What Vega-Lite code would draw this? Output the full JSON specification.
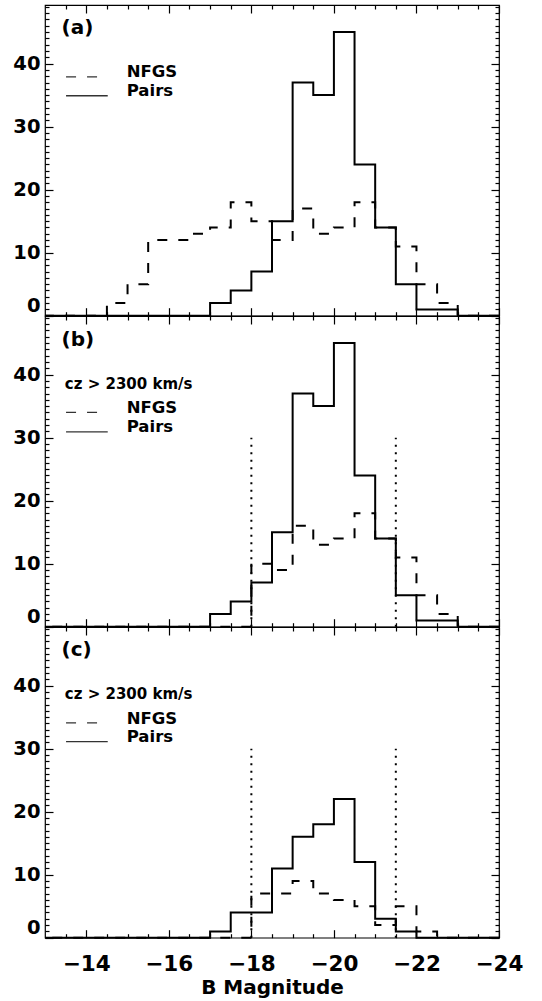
{
  "$schema": "https://vega.github.io/schema/vega-lite/v6.json",
  "padding": {"left": 12, "top": 3, "right": 5, "bottom": 2},
  "spacing": 0,
  "bounds": "flush",
  "background": "white",
  "config": {
    "view": {"stroke": "black", "strokeWidth": 1.2},
    "font": "DejaVu Sans",
    "axis": {"domain": false, "grid": false, "tickColor": "black", "tickWidth": 1.2, "labelFont": "DejaVu Sans", "labelFontWeight": "bold", "labelColor": "black", "titleFont": "DejaVu Sans", "titleFontWeight": "bold", "titleColor": "black", "labelOverlap": false}
  },
  "datasets": {
    "hist": [
      {"panel": "a", "series": "Pairs", "mag": -24, "count": 0},
      {"panel": "a", "series": "Pairs", "mag": -23, "count": 0},
      {"panel": "a", "series": "Pairs", "mag": -22.5, "count": 1},
      {"panel": "a", "series": "Pairs", "mag": -22, "count": 1},
      {"panel": "a", "series": "Pairs", "mag": -21.5, "count": 5},
      {"panel": "a", "series": "Pairs", "mag": -21, "count": 14},
      {"panel": "a", "series": "Pairs", "mag": -20.5, "count": 24},
      {"panel": "a", "series": "Pairs", "mag": -20, "count": 45},
      {"panel": "a", "series": "Pairs", "mag": -19.5, "count": 35},
      {"panel": "a", "series": "Pairs", "mag": -19, "count": 37},
      {"panel": "a", "series": "Pairs", "mag": -18.5, "count": 15},
      {"panel": "a", "series": "Pairs", "mag": -18, "count": 7},
      {"panel": "a", "series": "Pairs", "mag": -17.5, "count": 4},
      {"panel": "a", "series": "Pairs", "mag": -17, "count": 2},
      {"panel": "a", "series": "Pairs", "mag": -13, "count": 0},
      {"panel": "a", "series": "NFGS", "mag": -24, "count": 0},
      {"panel": "a", "series": "NFGS", "mag": -23, "count": 0},
      {"panel": "a", "series": "NFGS", "mag": -22.5, "count": 2},
      {"panel": "a", "series": "NFGS", "mag": -22, "count": 5},
      {"panel": "a", "series": "NFGS", "mag": -21.5, "count": 11},
      {"panel": "a", "series": "NFGS", "mag": -21, "count": 14},
      {"panel": "a", "series": "NFGS", "mag": -20.5, "count": 18},
      {"panel": "a", "series": "NFGS", "mag": -20, "count": 14},
      {"panel": "a", "series": "NFGS", "mag": -19.5, "count": 13},
      {"panel": "a", "series": "NFGS", "mag": -19, "count": 17},
      {"panel": "a", "series": "NFGS", "mag": -18.5, "count": 12},
      {"panel": "a", "series": "NFGS", "mag": -18, "count": 15},
      {"panel": "a", "series": "NFGS", "mag": -17.5, "count": 18},
      {"panel": "a", "series": "NFGS", "mag": -17, "count": 14},
      {"panel": "a", "series": "NFGS", "mag": -16.5, "count": 13},
      {"panel": "a", "series": "NFGS", "mag": -16, "count": 12},
      {"panel": "a", "series": "NFGS", "mag": -15.5, "count": 12},
      {"panel": "a", "series": "NFGS", "mag": -15, "count": 5},
      {"panel": "a", "series": "NFGS", "mag": -14.5, "count": 2},
      {"panel": "a", "series": "NFGS", "mag": -13, "count": 0},
      {"panel": "b", "series": "Pairs", "mag": -24, "count": 0},
      {"panel": "b", "series": "Pairs", "mag": -23, "count": 0},
      {"panel": "b", "series": "Pairs", "mag": -22.5, "count": 1},
      {"panel": "b", "series": "Pairs", "mag": -22, "count": 1},
      {"panel": "b", "series": "Pairs", "mag": -21.5, "count": 5},
      {"panel": "b", "series": "Pairs", "mag": -21, "count": 14},
      {"panel": "b", "series": "Pairs", "mag": -20.5, "count": 24},
      {"panel": "b", "series": "Pairs", "mag": -20, "count": 45},
      {"panel": "b", "series": "Pairs", "mag": -19.5, "count": 35},
      {"panel": "b", "series": "Pairs", "mag": -19, "count": 37},
      {"panel": "b", "series": "Pairs", "mag": -18.5, "count": 15},
      {"panel": "b", "series": "Pairs", "mag": -18, "count": 7},
      {"panel": "b", "series": "Pairs", "mag": -17.5, "count": 4},
      {"panel": "b", "series": "Pairs", "mag": -17, "count": 2},
      {"panel": "b", "series": "Pairs", "mag": -13, "count": 0},
      {"panel": "b", "series": "NFGS", "mag": -24, "count": 0},
      {"panel": "b", "series": "NFGS", "mag": -23, "count": 0},
      {"panel": "b", "series": "NFGS", "mag": -22.5, "count": 2},
      {"panel": "b", "series": "NFGS", "mag": -22, "count": 5},
      {"panel": "b", "series": "NFGS", "mag": -21.5, "count": 11},
      {"panel": "b", "series": "NFGS", "mag": -21, "count": 14},
      {"panel": "b", "series": "NFGS", "mag": -20.5, "count": 18},
      {"panel": "b", "series": "NFGS", "mag": -20, "count": 14},
      {"panel": "b", "series": "NFGS", "mag": -19.5, "count": 13},
      {"panel": "b", "series": "NFGS", "mag": -19, "count": 16},
      {"panel": "b", "series": "NFGS", "mag": -18.5, "count": 9},
      {"panel": "b", "series": "NFGS", "mag": -18, "count": 10},
      {"panel": "b", "series": "NFGS", "mag": -13, "count": 0},
      {"panel": "c", "series": "Pairs", "mag": -24, "count": 0},
      {"panel": "c", "series": "Pairs", "mag": -22, "count": 0},
      {"panel": "c", "series": "Pairs", "mag": -21.5, "count": 1},
      {"panel": "c", "series": "Pairs", "mag": -21, "count": 3},
      {"panel": "c", "series": "Pairs", "mag": -20.5, "count": 12},
      {"panel": "c", "series": "Pairs", "mag": -20, "count": 22},
      {"panel": "c", "series": "Pairs", "mag": -19.5, "count": 18},
      {"panel": "c", "series": "Pairs", "mag": -19, "count": 16},
      {"panel": "c", "series": "Pairs", "mag": -18.5, "count": 11},
      {"panel": "c", "series": "Pairs", "mag": -18, "count": 4},
      {"panel": "c", "series": "Pairs", "mag": -17.5, "count": 4},
      {"panel": "c", "series": "Pairs", "mag": -17, "count": 1},
      {"panel": "c", "series": "Pairs", "mag": -13, "count": 0},
      {"panel": "c", "series": "NFGS", "mag": -24, "count": 0},
      {"panel": "c", "series": "NFGS", "mag": -22.5, "count": 0},
      {"panel": "c", "series": "NFGS", "mag": -22, "count": 1},
      {"panel": "c", "series": "NFGS", "mag": -21.5, "count": 5},
      {"panel": "c", "series": "NFGS", "mag": -21, "count": 2},
      {"panel": "c", "series": "NFGS", "mag": -20.5, "count": 5},
      {"panel": "c", "series": "NFGS", "mag": -20, "count": 6},
      {"panel": "c", "series": "NFGS", "mag": -19.5, "count": 7},
      {"panel": "c", "series": "NFGS", "mag": -19, "count": 9},
      {"panel": "c", "series": "NFGS", "mag": -18.5, "count": 7},
      {"panel": "c", "series": "NFGS", "mag": -18, "count": 7},
      {"panel": "c", "series": "NFGS", "mag": -13, "count": 0}
    ],
    "cuts": [{"mag": -18}, {"mag": -21.5}]
  },
  "vconcat": [
    {
      "width": 454, "height": 310.7,
      "resolve": {"axis": {"x": "independent", "y": "independent"}},
      "layer": [
        {
          "data": {"name": "hist"},
          "transform": [{"filter": "datum.panel === 'a' && datum.series === 'NFGS'"}],
          "mark": {"type": "line", "interpolate": "step-before", "color": "black", "strokeWidth": 2, "strokeDash": [10, 11]},
          "encoding": {
            "x": {"field": "mag", "type": "quantitative", "scale": {"domain": [-24, -13], "reverse": true, "nice": false, "zero": false}, "axis": {"orient": "bottom", "values": [-14, -16, -18, -20, -22, -24], "tickSize": -8, "labels": false, "title": null}},
            "y": {"field": "count", "type": "quantitative", "scale": {"domain": [0, 49.3], "nice": false, "zero": false}, "axis": {"orient": "left", "values": [0, 10, 20, 30, 40], "tickSize": -8, "labelFontSize": 19.5, "labelPadding": 13, "labelFlush": true, "title": null}},
            "order": {"field": "mag", "type": "quantitative", "sort": "ascending"}
          }
        },
        {
          "data": {"name": "hist"},
          "transform": [{"filter": "datum.panel === 'a' && datum.series === 'Pairs'"}],
          "mark": {"type": "line", "interpolate": "step-before", "color": "black", "strokeWidth": 2},
          "encoding": {
            "x": {"field": "mag", "type": "quantitative", "scale": {"domain": [-24, -13], "reverse": true, "nice": false, "zero": false}, "axis": {"orient": "bottom", "values": [-13.5, -14.5, -15, -15.5, -16.5, -17, -17.5, -18.5, -19, -19.5, -20.5, -21, -21.5, -22.5, -23, -23.5], "tickSize": -4, "labels": false, "title": null}},
            "y": {"field": "count", "type": "quantitative", "scale": {"domain": [0, 49.3], "nice": false, "zero": false}, "axis": {"orient": "left", "values": [1, 2, 3, 4, 5, 6, 7, 8, 9, 11, 12, 13, 14, 15, 16, 17, 18, 19, 21, 22, 23, 24, 25, 26, 27, 28, 29, 31, 32, 33, 34, 35, 36, 37, 38, 39, 41, 42, 43, 44, 45, 46, 47, 48, 49], "tickSize": -4, "labels": false, "title": null}},
            "order": {"field": "mag", "type": "quantitative", "sort": "ascending"}
          }
        },
        {
          "data": {"values": [{}]},
          "mark": {"type": "rule", "color": "#333333", "strokeWidth": 1.3, "strokeDash": [10, 11]},
          "encoding": {
            "x": {"datum": -13.51, "type": "quantitative", "scale": {"domain": [-24, -13], "reverse": true, "nice": false, "zero": false}, "axis": {"orient": "top", "values": [-14, -16, -18, -20, -22, -24], "tickSize": -8, "labels": false, "title": null}},
            "x2": {"datum": -14.28},
            "y": {"datum": 37.9, "type": "quantitative", "scale": {"domain": [0, 49.3], "nice": false, "zero": false}, "axis": {"orient": "right", "values": [0, 10, 20, 30, 40], "tickSize": -8, "labels": false, "title": null}}
          }
        },
        {
          "data": {"values": [{}]},
          "mark": {"type": "rule", "color": "#333333", "strokeWidth": 1.3},
          "encoding": {
            "x": {"datum": -13.51, "type": "quantitative", "scale": {"domain": [-24, -13], "reverse": true, "nice": false, "zero": false}, "axis": {"orient": "top", "values": [-13.5, -14.5, -15, -15.5, -16.5, -17, -17.5, -18.5, -19, -19.5, -20.5, -21, -21.5, -22.5, -23, -23.5], "tickSize": -4, "labels": false, "title": null}},
            "x2": {"datum": -14.52},
            "y": {"datum": 34.9, "type": "quantitative", "scale": {"domain": [0, 49.3], "nice": false, "zero": false}, "axis": {"orient": "right", "values": [1, 2, 3, 4, 5, 6, 7, 8, 9, 11, 12, 13, 14, 15, 16, 17, 18, 19, 21, 22, 23, 24, 25, 26, 27, 28, 29, 31, 32, 33, 34, 35, 36, 37, 38, 39, 41, 42, 43, 44, 45, 46, 47, 48, 49], "tickSize": -4, "labels": false, "title": null}}
          }
        },
        {
          "data": {"values": [{}]},
          "mark": {"type": "text", "text": "(a)", "font": "DejaVu Sans", "fontWeight": "bold", "fontSize": 20, "align": "left", "baseline": "alphabetic", "color": "black"},
          "encoding": {
            "x": {"datum": -13.4, "type": "quantitative", "scale": {"domain": [-24, -13], "reverse": true, "nice": false, "zero": false}, "axis": null},
            "y": {"datum": 44.7, "type": "quantitative", "scale": {"domain": [0, 49.3], "nice": false, "zero": false}, "axis": null}
          }
        },
        {
          "data": {"values": [{}]},
          "mark": {"type": "text", "text": "NFGS", "font": "DejaVu Sans", "fontWeight": "bold", "fontSize": 16.5, "align": "left", "baseline": "alphabetic", "color": "black"},
          "encoding": {
            "x": {"datum": -14.98, "type": "quantitative", "scale": {"domain": [-24, -13], "reverse": true, "nice": false, "zero": false}, "axis": null},
            "y": {"datum": 37.9, "type": "quantitative", "scale": {"domain": [0, 49.3], "nice": false, "zero": false}, "axis": null}
          }
        },
        {
          "data": {"values": [{}]},
          "mark": {"type": "text", "text": "Pairs", "font": "DejaVu Sans", "fontWeight": "bold", "fontSize": 16.5, "align": "left", "baseline": "alphabetic", "color": "black"},
          "encoding": {
            "x": {"datum": -14.98, "type": "quantitative", "scale": {"domain": [-24, -13], "reverse": true, "nice": false, "zero": false}, "axis": null},
            "y": {"datum": 34.9, "type": "quantitative", "scale": {"domain": [0, 49.3], "nice": false, "zero": false}, "axis": null}
          }
        }
      ]
    },
    {
      "width": 454, "height": 310.7,
      "resolve": {"axis": {"x": "independent", "y": "independent"}},
      "layer": [
        {
          "data": {"name": "hist"},
          "transform": [{"filter": "datum.panel === 'b' && datum.series === 'NFGS'"}],
          "mark": {"type": "line", "interpolate": "step-before", "color": "black", "strokeWidth": 2, "strokeDash": [10, 11]},
          "encoding": {
            "x": {"field": "mag", "type": "quantitative", "scale": {"domain": [-24, -13], "reverse": true, "nice": false, "zero": false}, "axis": {"orient": "bottom", "values": [-14, -16, -18, -20, -22, -24], "tickSize": -8, "labels": false, "title": null}},
            "y": {"field": "count", "type": "quantitative", "scale": {"domain": [0, 49.3], "nice": false, "zero": false}, "axis": {"orient": "left", "values": [0, 10, 20, 30, 40], "tickSize": -8, "labelFontSize": 19.5, "labelPadding": 13, "labelFlush": true, "title": null}},
            "order": {"field": "mag", "type": "quantitative", "sort": "ascending"}
          }
        },
        {
          "data": {"name": "hist"},
          "transform": [{"filter": "datum.panel === 'b' && datum.series === 'Pairs'"}],
          "mark": {"type": "line", "interpolate": "step-before", "color": "black", "strokeWidth": 2},
          "encoding": {
            "x": {"field": "mag", "type": "quantitative", "scale": {"domain": [-24, -13], "reverse": true, "nice": false, "zero": false}, "axis": {"orient": "bottom", "values": [-13.5, -14.5, -15, -15.5, -16.5, -17, -17.5, -18.5, -19, -19.5, -20.5, -21, -21.5, -22.5, -23, -23.5], "tickSize": -4, "labels": false, "title": null}},
            "y": {"field": "count", "type": "quantitative", "scale": {"domain": [0, 49.3], "nice": false, "zero": false}, "axis": {"orient": "left", "values": [1, 2, 3, 4, 5, 6, 7, 8, 9, 11, 12, 13, 14, 15, 16, 17, 18, 19, 21, 22, 23, 24, 25, 26, 27, 28, 29, 31, 32, 33, 34, 35, 36, 37, 38, 39, 41, 42, 43, 44, 45, 46, 47, 48, 49], "tickSize": -4, "labels": false, "title": null}},
            "order": {"field": "mag", "type": "quantitative", "sort": "ascending"}
          }
        },
        {
          "data": {"values": [{}]},
          "mark": {"type": "rule", "color": "#333333", "strokeWidth": 1.3, "strokeDash": [10, 11]},
          "encoding": {
            "x": {"datum": -13.51, "type": "quantitative", "scale": {"domain": [-24, -13], "reverse": true, "nice": false, "zero": false}, "axis": {"orient": "top", "values": [-14, -16, -18, -20, -22, -24], "tickSize": -8, "labels": false, "title": null}},
            "x2": {"datum": -14.28},
            "y": {"datum": 34.0, "type": "quantitative", "scale": {"domain": [0, 49.3], "nice": false, "zero": false}, "axis": {"orient": "right", "values": [0, 10, 20, 30, 40], "tickSize": -8, "labels": false, "title": null}}
          }
        },
        {
          "data": {"values": [{}]},
          "mark": {"type": "rule", "color": "#333333", "strokeWidth": 1.3},
          "encoding": {
            "x": {"datum": -13.51, "type": "quantitative", "scale": {"domain": [-24, -13], "reverse": true, "nice": false, "zero": false}, "axis": {"orient": "top", "values": [-13.5, -14.5, -15, -15.5, -16.5, -17, -17.5, -18.5, -19, -19.5, -20.5, -21, -21.5, -22.5, -23, -23.5], "tickSize": -4, "labels": false, "title": null}},
            "x2": {"datum": -14.52},
            "y": {"datum": 30.9, "type": "quantitative", "scale": {"domain": [0, 49.3], "nice": false, "zero": false}, "axis": {"orient": "right", "values": [1, 2, 3, 4, 5, 6, 7, 8, 9, 11, 12, 13, 14, 15, 16, 17, 18, 19, 21, 22, 23, 24, 25, 26, 27, 28, 29, 31, 32, 33, 34, 35, 36, 37, 38, 39, 41, 42, 43, 44, 45, 46, 47, 48, 49], "tickSize": -4, "labels": false, "title": null}}
          }
        },
        {
          "data": {"name": "cuts"},
          "mark": {"type": "rule", "color": "black", "strokeWidth": 2, "strokeDash": [2, 5.5]},
          "encoding": {
            "x": {"field": "mag", "type": "quantitative", "scale": {"domain": [-24, -13], "reverse": true, "nice": false, "zero": false}, "axis": null},
            "y": {"datum": 0, "type": "quantitative", "scale": {"domain": [0, 49.3], "nice": false, "zero": false}, "axis": null},
            "y2": {"datum": 30}
          }
        },
        {
          "data": {"values": [{}]},
          "mark": {"type": "text", "text": "(b)", "font": "DejaVu Sans", "fontWeight": "bold", "fontSize": 20, "align": "left", "baseline": "alphabetic", "color": "black"},
          "encoding": {
            "x": {"datum": -13.4, "type": "quantitative", "scale": {"domain": [-24, -13], "reverse": true, "nice": false, "zero": false}, "axis": null},
            "y": {"datum": 44.6, "type": "quantitative", "scale": {"domain": [0, 49.3], "nice": false, "zero": false}, "axis": null}
          }
        },
        {
          "data": {"values": [{}]},
          "mark": {"type": "text", "text": "cz > 2300 km/s", "font": "DejaVu Sans", "fontWeight": "bold", "fontSize": 15, "align": "left", "baseline": "alphabetic", "color": "black"},
          "encoding": {
            "x": {"datum": -13.48, "type": "quantitative", "scale": {"domain": [-24, -13], "reverse": true, "nice": false, "zero": false}, "axis": null},
            "y": {"datum": 37.7, "type": "quantitative", "scale": {"domain": [0, 49.3], "nice": false, "zero": false}, "axis": null}
          }
        },
        {
          "data": {"values": [{}]},
          "mark": {"type": "text", "text": "NFGS", "font": "DejaVu Sans", "fontWeight": "bold", "fontSize": 16.5, "align": "left", "baseline": "alphabetic", "color": "black"},
          "encoding": {
            "x": {"datum": -14.98, "type": "quantitative", "scale": {"domain": [-24, -13], "reverse": true, "nice": false, "zero": false}, "axis": null},
            "y": {"datum": 33.9, "type": "quantitative", "scale": {"domain": [0, 49.3], "nice": false, "zero": false}, "axis": null}
          }
        },
        {
          "data": {"values": [{}]},
          "mark": {"type": "text", "text": "Pairs", "font": "DejaVu Sans", "fontWeight": "bold", "fontSize": 16.5, "align": "left", "baseline": "alphabetic", "color": "black"},
          "encoding": {
            "x": {"datum": -14.98, "type": "quantitative", "scale": {"domain": [-24, -13], "reverse": true, "nice": false, "zero": false}, "axis": null},
            "y": {"datum": 30.9, "type": "quantitative", "scale": {"domain": [0, 49.3], "nice": false, "zero": false}, "axis": null}
          }
        }
      ]
    },
    {
      "width": 454, "height": 310.7,
      "resolve": {"axis": {"x": "independent", "y": "independent"}},
      "layer": [
        {
          "data": {"name": "hist"},
          "transform": [{"filter": "datum.panel === 'c' && datum.series === 'NFGS'"}],
          "mark": {"type": "line", "interpolate": "step-before", "color": "black", "strokeWidth": 2, "strokeDash": [10, 11]},
          "encoding": {
            "x": {"field": "mag", "type": "quantitative", "scale": {"domain": [-24, -13], "reverse": true, "nice": false, "zero": false}, "axis": {"orient": "bottom", "values": [-14, -16, -18, -20, -22, -24], "tickSize": -8, "labelFontSize": 21.5, "labelPadding": 23.5, "labelFlush": false, "labelBound": false, "title": "B Magnitude", "titleFontSize": 20, "titlePadding": 3}},
            "y": {"field": "count", "type": "quantitative", "scale": {"domain": [0, 49.3], "nice": false, "zero": false}, "axis": {"orient": "left", "values": [0, 10, 20, 30, 40], "tickSize": -8, "labelFontSize": 19.5, "labelPadding": 13, "labelFlush": true, "title": null}},
            "order": {"field": "mag", "type": "quantitative", "sort": "ascending"}
          }
        },
        {
          "data": {"name": "hist"},
          "transform": [{"filter": "datum.panel === 'c' && datum.series === 'Pairs'"}],
          "mark": {"type": "line", "interpolate": "step-before", "color": "black", "strokeWidth": 2},
          "encoding": {
            "x": {"field": "mag", "type": "quantitative", "scale": {"domain": [-24, -13], "reverse": true, "nice": false, "zero": false}, "axis": {"orient": "bottom", "values": [-13.5, -14.5, -15, -15.5, -16.5, -17, -17.5, -18.5, -19, -19.5, -20.5, -21, -21.5, -22.5, -23, -23.5], "tickSize": -4, "labels": false, "title": null}},
            "y": {"field": "count", "type": "quantitative", "scale": {"domain": [0, 49.3], "nice": false, "zero": false}, "axis": {"orient": "left", "values": [1, 2, 3, 4, 5, 6, 7, 8, 9, 11, 12, 13, 14, 15, 16, 17, 18, 19, 21, 22, 23, 24, 25, 26, 27, 28, 29, 31, 32, 33, 34, 35, 36, 37, 38, 39, 41, 42, 43, 44, 45, 46, 47, 48, 49], "tickSize": -4, "labels": false, "title": null}},
            "order": {"field": "mag", "type": "quantitative", "sort": "ascending"}
          }
        },
        {
          "data": {"values": [{}]},
          "mark": {"type": "rule", "color": "#333333", "strokeWidth": 1.3, "strokeDash": [10, 11]},
          "encoding": {
            "x": {"datum": -13.51, "type": "quantitative", "scale": {"domain": [-24, -13], "reverse": true, "nice": false, "zero": false}, "axis": {"orient": "top", "values": [-14, -16, -18, -20, -22, -24], "tickSize": -8, "labels": false, "title": null}},
            "x2": {"datum": -14.28},
            "y": {"datum": 34.1, "type": "quantitative", "scale": {"domain": [0, 49.3], "nice": false, "zero": false}, "axis": {"orient": "right", "values": [0, 10, 20, 30, 40], "tickSize": -8, "labels": false, "title": null}}
          }
        },
        {
          "data": {"values": [{}]},
          "mark": {"type": "rule", "color": "#333333", "strokeWidth": 1.3},
          "encoding": {
            "x": {"datum": -13.51, "type": "quantitative", "scale": {"domain": [-24, -13], "reverse": true, "nice": false, "zero": false}, "axis": {"orient": "top", "values": [-13.5, -14.5, -15, -15.5, -16.5, -17, -17.5, -18.5, -19, -19.5, -20.5, -21, -21.5, -22.5, -23, -23.5], "tickSize": -4, "labels": false, "title": null}},
            "x2": {"datum": -14.52},
            "y": {"datum": 31.1, "type": "quantitative", "scale": {"domain": [0, 49.3], "nice": false, "zero": false}, "axis": {"orient": "right", "values": [1, 2, 3, 4, 5, 6, 7, 8, 9, 11, 12, 13, 14, 15, 16, 17, 18, 19, 21, 22, 23, 24, 25, 26, 27, 28, 29, 31, 32, 33, 34, 35, 36, 37, 38, 39, 41, 42, 43, 44, 45, 46, 47, 48, 49], "tickSize": -4, "labels": false, "title": null}}
          }
        },
        {
          "data": {"name": "cuts"},
          "mark": {"type": "rule", "color": "black", "strokeWidth": 2, "strokeDash": [2, 5.5]},
          "encoding": {
            "x": {"field": "mag", "type": "quantitative", "scale": {"domain": [-24, -13], "reverse": true, "nice": false, "zero": false}, "axis": null},
            "y": {"datum": 0, "type": "quantitative", "scale": {"domain": [0, 49.3], "nice": false, "zero": false}, "axis": null},
            "y2": {"datum": 30}
          }
        },
        {
          "data": {"values": [{}]},
          "mark": {"type": "text", "text": "(c)", "font": "DejaVu Sans", "fontWeight": "bold", "fontSize": 20, "align": "left", "baseline": "alphabetic", "color": "black"},
          "encoding": {
            "x": {"datum": -13.4, "type": "quantitative", "scale": {"domain": [-24, -13], "reverse": true, "nice": false, "zero": false}, "axis": null},
            "y": {"datum": 44.7, "type": "quantitative", "scale": {"domain": [0, 49.3], "nice": false, "zero": false}, "axis": null}
          }
        },
        {
          "data": {"values": [{}]},
          "mark": {"type": "text", "text": "cz > 2300 km/s", "font": "DejaVu Sans", "fontWeight": "bold", "fontSize": 15, "align": "left", "baseline": "alphabetic", "color": "black"},
          "encoding": {
            "x": {"datum": -13.48, "type": "quantitative", "scale": {"domain": [-24, -13], "reverse": true, "nice": false, "zero": false}, "axis": null},
            "y": {"datum": 37.8, "type": "quantitative", "scale": {"domain": [0, 49.3], "nice": false, "zero": false}, "axis": null}
          }
        },
        {
          "data": {"values": [{}]},
          "mark": {"type": "text", "text": "NFGS", "font": "DejaVu Sans", "fontWeight": "bold", "fontSize": 16.5, "align": "left", "baseline": "alphabetic", "color": "black"},
          "encoding": {
            "x": {"datum": -14.98, "type": "quantitative", "scale": {"domain": [-24, -13], "reverse": true, "nice": false, "zero": false}, "axis": null},
            "y": {"datum": 33.9, "type": "quantitative", "scale": {"domain": [0, 49.3], "nice": false, "zero": false}, "axis": null}
          }
        },
        {
          "data": {"values": [{}]},
          "mark": {"type": "text", "text": "Pairs", "font": "DejaVu Sans", "fontWeight": "bold", "fontSize": 16.5, "align": "left", "baseline": "alphabetic", "color": "black"},
          "encoding": {
            "x": {"datum": -14.98, "type": "quantitative", "scale": {"domain": [-24, -13], "reverse": true, "nice": false, "zero": false}, "axis": null},
            "y": {"datum": 31.0, "type": "quantitative", "scale": {"domain": [0, 49.3], "nice": false, "zero": false}, "axis": null}
          }
        }
      ]
    }
  ]
}
